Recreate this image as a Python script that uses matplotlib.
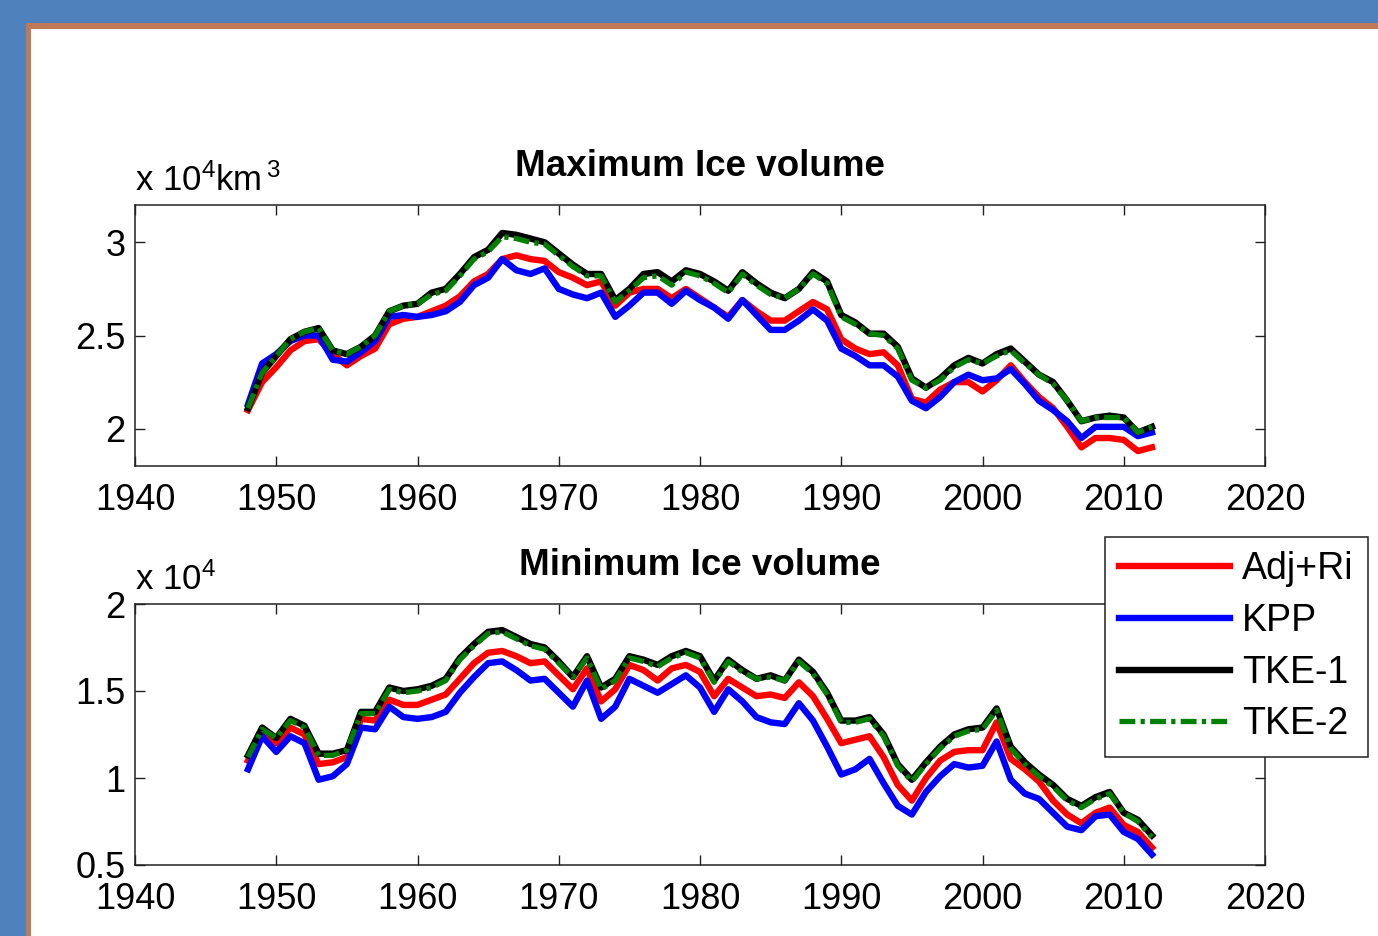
import numpy as np
import matplotlib
matplotlib.use("Agg")
import matplotlib.pyplot as plt
from matplotlib.patches import Rectangle
from matplotlib.ticker import FuncFormatter

plt.rcParams.update({"font.family": ["Liberation Sans", "DejaVu Sans"], "mathtext.fontset": "custom",
                     "mathtext.rm": "Liberation Sans"})

years = np.arange(1948, 2013)

# ice volume, units of 10^4 km^3
max_adjri = [2.10, 2.25, 2.33, 2.42, 2.47, 2.48, 2.40, 2.34, 2.39, 2.43, 2.56, 2.59, 2.60, 2.63, 2.66, 2.71,
             2.79, 2.83, 2.91, 2.93, 2.91, 2.90, 2.84, 2.81, 2.77, 2.79, 2.66, 2.73, 2.75, 2.75, 2.70, 2.75,
             2.70, 2.65, 2.60, 2.69, 2.63, 2.58, 2.58, 2.63, 2.68, 2.64, 2.48, 2.43, 2.40, 2.41, 2.34, 2.16,
             2.14, 2.21, 2.25, 2.25, 2.20, 2.26, 2.34, 2.25, 2.17, 2.11, 2.01, 1.90, 1.95, 1.95, 1.94, 1.88, 1.90]
max_kpp = [2.13, 2.35, 2.40, 2.47, 2.50, 2.50, 2.37, 2.36, 2.41, 2.47, 2.60, 2.61, 2.60, 2.61, 2.63, 2.68,
           2.77, 2.81, 2.91, 2.85, 2.83, 2.86, 2.75, 2.72, 2.70, 2.73, 2.60, 2.66, 2.73, 2.73, 2.67, 2.74,
           2.69, 2.65, 2.59, 2.69, 2.61, 2.53, 2.53, 2.58, 2.64, 2.58, 2.43, 2.39, 2.34, 2.34, 2.28, 2.15,
           2.11, 2.17, 2.25, 2.29, 2.26, 2.27, 2.32, 2.24, 2.15, 2.10, 2.04, 1.95, 2.01, 2.01, 2.01, 1.96, 1.98]
max_tke1 = [2.11, 2.30, 2.39, 2.48, 2.52, 2.54, 2.42, 2.40, 2.44, 2.50, 2.63, 2.66, 2.67, 2.73, 2.75, 2.83,
            2.92, 2.96, 3.05, 3.04, 3.02, 3.00, 2.94, 2.88, 2.83, 2.83, 2.69, 2.75, 2.83, 2.84, 2.79, 2.85,
            2.83, 2.79, 2.74, 2.84, 2.78, 2.73, 2.70, 2.75, 2.84, 2.79, 2.61, 2.57, 2.51, 2.51, 2.44, 2.27,
            2.22, 2.27, 2.34, 2.38, 2.35, 2.40, 2.43, 2.36, 2.29, 2.25, 2.15, 2.04, 2.06, 2.07, 2.06, 1.98, 2.01]
max_tke2 = [2.11, 2.30, 2.39, 2.48, 2.52, 2.54, 2.42, 2.40, 2.44, 2.50, 2.63, 2.66, 2.67, 2.72, 2.74, 2.82,
            2.91, 2.95, 3.03, 3.02, 3.00, 2.99, 2.93, 2.87, 2.82, 2.82, 2.68, 2.74, 2.81, 2.82, 2.77, 2.84,
            2.82, 2.78, 2.73, 2.83, 2.77, 2.72, 2.70, 2.75, 2.83, 2.78, 2.60, 2.56, 2.51, 2.50, 2.43, 2.26,
            2.22, 2.26, 2.33, 2.37, 2.35, 2.39, 2.42, 2.35, 2.29, 2.24, 2.15, 2.04, 2.06, 2.06, 2.06, 1.98, 2.01]

min_adjri = [1.10, 1.27, 1.20, 1.29, 1.25, 1.08, 1.09, 1.12, 1.34, 1.33, 1.45, 1.42, 1.42, 1.45, 1.48, 1.57,
             1.66, 1.72, 1.73, 1.70, 1.66, 1.67, 1.59, 1.51, 1.63, 1.44, 1.51, 1.65, 1.62, 1.56, 1.63, 1.65,
             1.61, 1.47, 1.57, 1.52, 1.47, 1.48, 1.46, 1.55, 1.47, 1.34, 1.20, 1.22, 1.24, 1.12, 0.96, 0.87,
             1.00, 1.10, 1.15, 1.16, 1.16, 1.32, 1.11, 1.05, 0.98, 0.87, 0.79, 0.74, 0.80, 0.83, 0.73, 0.69, 0.60]
min_kpp = [1.05, 1.24, 1.15, 1.24, 1.20, 0.99, 1.01, 1.08, 1.29, 1.28, 1.41, 1.35, 1.34, 1.35, 1.38, 1.49,
           1.58, 1.66, 1.67, 1.62, 1.56, 1.57, 1.49, 1.41, 1.56, 1.34, 1.41, 1.57, 1.53, 1.49, 1.54, 1.59,
           1.52, 1.38, 1.51, 1.44, 1.35, 1.32, 1.31, 1.43, 1.33, 1.18, 1.02, 1.05, 1.11, 0.97, 0.84, 0.79,
           0.92, 1.01, 1.08, 1.06, 1.07, 1.21, 0.99, 0.91, 0.88, 0.80, 0.72, 0.70, 0.78, 0.79, 0.69, 0.65, 0.56]
min_tke1 = [1.13, 1.29, 1.23, 1.34, 1.30, 1.14, 1.14, 1.16, 1.38, 1.38, 1.52, 1.50, 1.51, 1.53, 1.57, 1.69,
            1.77, 1.84, 1.85, 1.81, 1.77, 1.75, 1.67, 1.58, 1.70, 1.52, 1.57, 1.70, 1.68, 1.65, 1.70, 1.73,
            1.70, 1.56, 1.68, 1.62, 1.57, 1.59, 1.56, 1.68, 1.61, 1.49, 1.33, 1.33, 1.35, 1.25, 1.08, 0.99,
            1.09, 1.18, 1.25, 1.28, 1.29, 1.40, 1.18, 1.09, 1.02, 0.96, 0.88, 0.84, 0.89, 0.92, 0.80, 0.76, 0.67]
min_tke2 = [1.12, 1.28, 1.23, 1.33, 1.29, 1.13, 1.13, 1.16, 1.37, 1.37, 1.51, 1.49, 1.50, 1.52, 1.56, 1.68,
            1.76, 1.83, 1.84, 1.80, 1.76, 1.74, 1.66, 1.58, 1.69, 1.51, 1.56, 1.69, 1.67, 1.64, 1.69, 1.72,
            1.69, 1.55, 1.67, 1.61, 1.57, 1.58, 1.56, 1.67, 1.60, 1.48, 1.32, 1.32, 1.34, 1.24, 1.07, 0.98,
            1.08, 1.17, 1.24, 1.27, 1.28, 1.39, 1.17, 1.08, 1.01, 0.95, 0.87, 0.83, 0.88, 0.91, 0.80, 0.75, 0.66]

labels = ["Adj+Ri", "KPP", "TKE-1", "TKE-2"]
colors = ["#ff0000", "#0000ff", "#000000", "#008000"]

W, H = 1378, 936
fig = plt.figure(figsize=(W / 100, H / 100), dpi=100)
fig.patch.set_facecolor("#4f81bd")
fig.add_artist(Rectangle((26 / W, -0.1), 1.2, 1 - 23 / H + 0.1, transform=fig.transFigure,
                         facecolor="#be7a56", edgecolor="none", zorder=-10))
fig.add_artist(Rectangle((31 / W, -0.1), 1.2, 1 - 29 / H + 0.1, transform=fig.transFigure,
                         facecolor="white", edgecolor="none", zorder=-9))

ax1 = fig.add_axes([135 / W, 1 - 466 / H, 1130 / W, 261 / H])
ax2 = fig.add_axes([135 / W, 1 - 865 / H, 1130 / W, 261 / H])

def draw(ax, series, ylim, yticks, title, unit):
    handles = []
    for s, c, lab in zip(series, colors, labels):
        if lab == "TKE-2":
            h, = ax.plot(years, s, color=c, lw=3.8, dashes=(3, 1, 0.8, 1), label=lab)
        else:
            h, = ax.plot(years, s, color=c, lw=4.6, label=lab)
        handles.append(h)
    ax.set_xlim(1940, 2020)
    ax.set_ylim(*ylim)
    ax.set_xticks(range(1940, 2021, 10))
    ax.set_yticks(yticks)
    ax.yaxis.set_major_formatter(FuncFormatter(lambda v, p: f"{v:g}"))
    ax.tick_params(direction="in", length=7, width=1, top=True, right=True, labelsize=26,
                   colors="#222222", labelcolor="black")
    ax.tick_params(axis="x", pad=12)
    ax.tick_params(axis="y", pad=7)
    for sp in ax.spines.values():
        sp.set_linewidth(1.1)
        sp.set_color("#222222")
    ax.set_title(title, fontsize=26.5, fontweight="bold", pad=21)
    ax.text(0, 1.055, unit, transform=ax.transAxes, fontsize=25, va="baseline", ha="left")
    return handles

draw(ax1, [max_adjri, max_kpp, max_tke1, max_tke2], (1.8, 3.2), [2, 2.5, 3],
     "Maximum Ice volume", r"x $\mathregular{10^4 km^{\,3}}$")
hs = draw(ax2, [min_adjri, min_kpp, min_tke1, min_tke2], (0.5, 2.0), [0.5, 1, 1.5, 2],
          "Minimum Ice volume", r"x $\mathregular{10^4}$")

leg = fig.legend(hs, labels, loc="upper left", bbox_to_anchor=(1105 / W, 1 - 537 / H),
                 fontsize=27, frameon=True, fancybox=False, handlelength=2.95, handletextpad=0.32,
                 labelspacing=0.42, borderpad=0.38, borderaxespad=0)
leg.get_frame().set_edgecolor("#222222")
leg.get_frame().set_linewidth(1.1)
leg.get_frame().set_alpha(1)

fig.savefig("out.png", dpi=100, facecolor=fig.get_facecolor())
